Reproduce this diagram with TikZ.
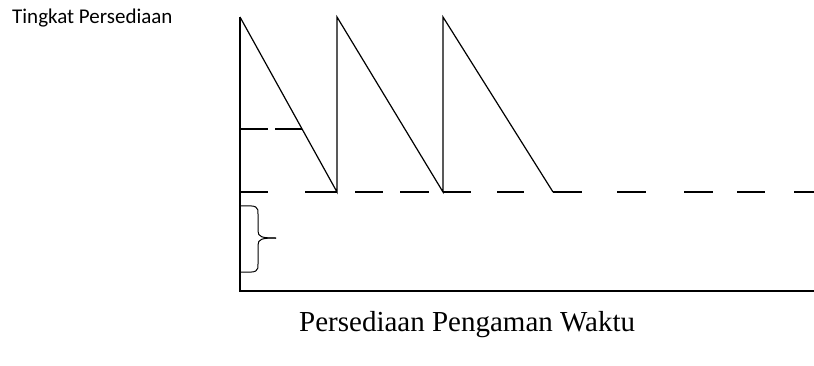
\documentclass[tikz,border=0pt]{standalone}
\usepackage{fontspec}
\setmainfont{Liberation Serif}
\newfontfamily\calib{Carlito}
\begin{document}
\begin{tikzpicture}[x=1pt,y=-1pt,
  ln/.style={line width=1.2pt, line join=miter},
  lbl/.style={inner sep=0pt, anchor=base west}]
\useasboundingbox (0,0) rectangle (814,365);
% axes
\coordinate (top) at (240,17);
\coordinate (origin) at (240,291);
\coordinate (xend) at (814,291);
\draw[ln] (top) -- (origin) -- (xend);
% sawtooth
\coordinate (b1) at (337,192);
\coordinate (t2) at (337,17);
\coordinate (b2) at (443,192);
\coordinate (t3) at (443,17);
\coordinate (b3) at (553,192);
\draw[ln] (top) -- (b1) -- (t2) -- (b2) -- (t3) -- (b3);
% dashed safety stock line
\foreach \a/\b in {240/268,305/337,355/383,400/429,443/471,497/524,553/582,617/646,684/713,737/765,794/814}
  \draw[ln] (\a,192) -- (\b,192);
% reorder point dashes
\foreach \a/\b in {240/268,275/302}
  \draw[ln] (\a,129) -- (\b,129);
% brace
\draw[ln, line width=1pt] (240,206) .. controls (258,205) and (258,207) .. (258,214) -- (258,231)
  .. controls (258,237) and (262,238) .. (276,238);
\draw[ln, line width=1pt] (240,272) .. controls (258,273) and (258,271) .. (258,264) -- (258,245)
  .. controls (258,239) and (262,238) .. (276,238);
% labels
\node[lbl] (ylab) at (12,23) {\calib\fontsize{21}{25}\selectfont Tingkat Persediaan};
\node[inner sep=0pt, anchor=base west] (title) at (299,331) {\fontsize{29}{34}\selectfont Persediaan Pengaman Waktu};
\end{tikzpicture}
\end{document}
